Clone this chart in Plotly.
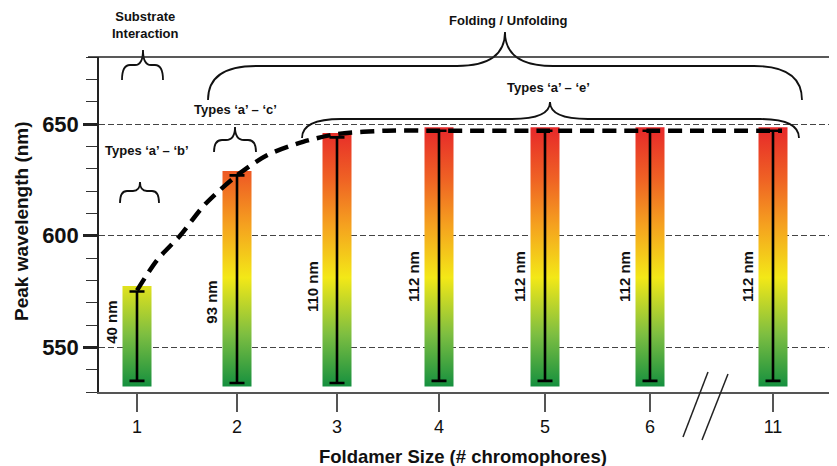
import plotly.graph_objects as go

# ---------------- data ----------------
sizes = ["1", "2", "3", "4", "5", "6", "11"]          # foldamer size (# chromophores)
bar_top = [577.5, 629, 646, 648.5, 648.5, 648.5, 648.5]  # top of emission band (nm)
bar_bottom = [532.5, 532.5, 532.5, 532.5, 532.5, 532.5, 532.5]
err_low = [535, 534, 534, 535, 535, 535, 535]           # lower end of peak range (nm)
err_high = [575, 627, 644, 647, 647, 647, 647]          # upper end of peak range (nm)
bar_labels = ["40 nm", "93 nm", "110 nm", "112 nm", "112 nm", "112 nm", "112 nm"]

trend_pos = [1, 1.2, 1.43, 1.68, 2, 2.3, 2.66, 3, 3.5, 4.02, 5.08, 6.13, 7.45]
trend_y = [575.5, 589, 600, 614, 627, 636, 642, 645.5, 647, 647, 647, 647, 647]

# ---------------- layout helpers ----------------
x_pos = [1, 2, 3, 4.02, 5.08, 6.13, 7.36]   # axis position of each size (axis broken before 11)
label_y = [561, 570, 577, 581.5, 581.5, 581.5, 581.5]
BAR_W = 0.29
PAGE_OFF = 8                     # default page body margin
W, H = 837 - PAGE_OFF, 466 - PAGE_OFF
L, R, T, B = 99 - PAGE_OFF, 0, 57 - PAGE_OFF, 74
PLOT_L, PLOT_R, PLOT_T, PLOT_B = 99, 837, 57, 392   # plot area in window pixels


def PX(px):
    return (px - PLOT_L) / (PLOT_R - PLOT_L)


def PY(py):
    return (PLOT_B - py) / (PLOT_B - PLOT_T)


FONT = "Liberation Sans, Arial, sans-serif"
grad = [[0.0, "#15903f"], [0.2, "#7dbe41"], [0.42, "#f3e817"],
        [0.62, "#f5a21f"], [0.8, "#ef6224"], [1.0, "#e7282a"]]

fig = go.Figure()

# gradient bars
for p, b, t in zip(x_pos, bar_bottom, bar_top):
    fig.add_trace(go.Scatter(
        x=[p - BAR_W / 2, p + BAR_W / 2, p + BAR_W / 2, p - BAR_W / 2, p - BAR_W / 2],
        y=[b, b, t, t, b],
        mode="lines", line=dict(width=0), fill="toself",
        fillgradient=dict(type="vertical", colorscale=grad, start=532.5, stop=648.5),
        hoverinfo="skip", showlegend=False))

# dashed trend curve
fig.add_trace(go.Scatter(
    x=trend_pos, y=trend_y, mode="lines",
    line=dict(color="black", width=4.5, dash="14px,8px", shape="spline", smoothing=0.8),
    hoverinfo="skip", showlegend=False))

# range bars (error bars)
fig.add_trace(go.Scatter(
    x=x_pos, y=err_low, mode="markers", marker=dict(size=1, color="rgba(0,0,0,0)"),
    error_y=dict(type="data", symmetric=False,
                 array=[h - l for h, l in zip(err_high, err_low)],
                 arrayminus=[0] * len(err_low),
                 color="black", thickness=2.6, width=7.5),
    hoverinfo="skip", showlegend=False))

annotations = []
# bar labels
for p, ly, txt in zip(x_pos, label_y, bar_labels):
    annotations.append(dict(x=p, y=ly, xref="x", yref="y", text=txt, showarrow=False,
                            textangle=-90, xshift=-25, xanchor="center", yanchor="middle",
                            font=dict(family=FONT, size=15, color="#111", weight="bold")))

# axis titles
annotations.append(dict(x=PX(463), y=PY(457), xref="paper", yref="paper",
                        xanchor="center", yanchor="middle",
                        text="Foldamer Size (# chromophores)", showarrow=False,
                        font=dict(family=FONT, size=18.5, color="#111", weight="bold")))
annotations.append(dict(x=PX(22), y=PY(221), xref="paper", yref="paper",
                        xanchor="center", yanchor="middle",
                        text="Peak wavelength (nm)", showarrow=False, textangle=-90,
                        font=dict(family=FONT, size=19, color="#111", weight="bold")))

# brace labels
small = dict(family=FONT, size=13, color="#111", weight="bold")
for txt, cx, cy in [("Substrate<br>Interaction", 145, 25),
                    ("Types ‘a’ – ‘b’", 147, 150),
                    ("Types ‘a’ – ‘c’", 235, 110),
                    ("Types ‘a’ – ‘e’", 548, 87),
                    ("Folding / Unfolding", 508, 20)]:
    annotations.append(dict(x=PX(cx), y=PY(cy), xref="paper", yref="paper", text=txt,
                            xanchor="center", yanchor="middle",
                            showarrow=False, font=small))


def brace(x0, x1, xt, yb, ym, yt, ra, rt):
    pts = [("M", [(x0, yb)]),
           ("Q", [(x0, ym), (x0 + ra, ym)]),
           ("L", [(xt - rt, ym)]),
           ("Q", [(xt, ym), (xt, yt)]),
           ("Q", [(xt, ym), (xt + rt, ym)]),
           ("L", [(x1 - ra, ym)]),
           ("Q", [(x1, ym), (x1, yb)])]
    s = ""
    for cmd, ps in pts:
        s += cmd + " " + " ".join(f"{PX(a):.5f},{PY(b):.5f}" for a, b in ps) + " "
    return s.strip()


shapes = []
for args in [(122, 163, 143, 80, 65, 50, 8, 8),
             (120, 159, 140, 203, 191, 182, 7, 7),
             (214, 256, 235, 152, 140, 127, 8, 9),
             (208, 802, 505, 100, 66, 32, 48, 48),
             (302, 799, 550, 138, 119, 102, 39, 38)]:
    shapes.append(dict(type="path", path=brace(*args), xref="paper", yref="paper",
                       line=dict(color="#111", width=1.8)))

# top frame line
shapes.append(dict(type="line", xref="paper", yref="paper", x0=PX(88), x1=1, y0=1, y1=1,
                   line=dict(color="#222", width=1.5)))
# axis break marks
for (ax0, ay0, ax1, ay1) in [(683, 437, 708, 372), (702, 440, 728, 374)]:
    shapes.append(dict(type="line", xref="paper", yref="paper",
                       x0=PX(ax0), y0=PY(ay0), x1=PX(ax1), y1=PY(ay1),
                       line=dict(color="#222", width=1.5)))

fig.update_layout(
    width=W, height=H, margin=dict(l=L, r=R, t=T, b=B, pad=0),
    plot_bgcolor="white", paper_bgcolor="white",
    showlegend=False, annotations=annotations, shapes=shapes,
    xaxis=dict(range=[0.62, 8.0], tickmode="array", tickvals=x_pos, ticktext=sizes,
               showgrid=False, zeroline=False, showline=True, linecolor="#555", linewidth=1.5,
               ticks="outside", ticklen=18, tickwidth=1.5, tickcolor="#555",
               tickfont=dict(family=FONT, size=18, color="#111")),
    yaxis=dict(range=[530, 680], tick0=550, dtick=50, showgrid=True, gridcolor="#444",
               gridwidth=1, griddash="6px,3px", zeroline=False, showline=True,
               linecolor="#222", linewidth=1.5, ticks="outside", ticklen=14, tickwidth=3,
               tickcolor="#222",
               minor=dict(tick0=530, dtick=10, ticks="outside", ticklen=11, tickwidth=1.2,
                          tickcolor="#333", showgrid=False),
               tickfont=dict(family=FONT, size=22, color="#111", weight="bold")),
)

fig.write_html("out.html")
